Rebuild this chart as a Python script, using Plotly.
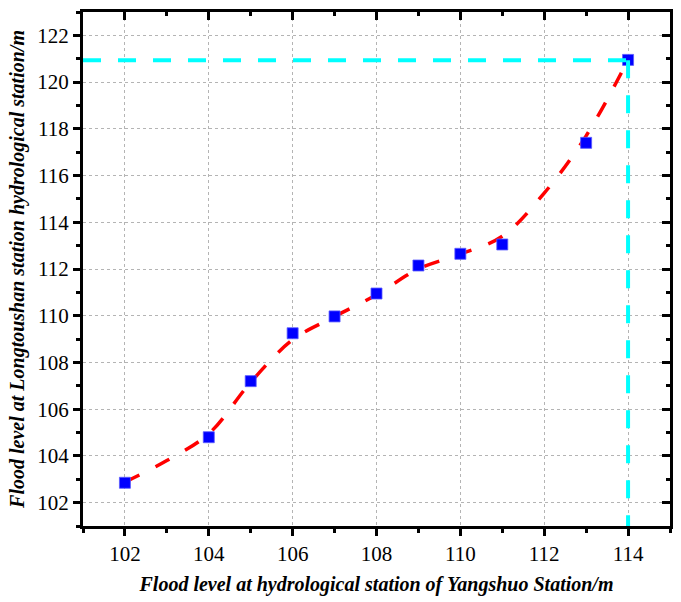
import plotly.graph_objects as go

# Measured data (Yangshuo vs Longtoushan flood levels)
yangshuo = [102, 104, 105, 106, 107, 108, 109, 110, 111, 113, 114]
longtoushan = [102.85, 104.8, 107.2, 109.25, 109.97, 110.95, 112.15, 112.65, 113.05, 117.4, 120.95]

# Fitted curve values
fit_x = [102, 103, 104, 105, 106, 107, 108, 109, 110, 111, 112, 113, 114]
fit_y = [102.88, 103.8, 104.95, 107.15, 108.97, 109.96, 110.9, 112.0, 112.64, 113.4, 115.25, 117.7, 120.95]

# Reference (design) level lines
ref_x = 114
ref_y = 120.93

x_range = [101, 115]
y_range = [101, 123]

FONT = "Liberation Serif, Times New Roman, serif"

fig = go.Figure()

fig.add_trace(go.Scatter(
    x=fit_x, y=fit_y, mode="lines",
    line=dict(color="#ff0000", width=3.5, dash="16px,18px", shape="spline", smoothing=1.0),
    showlegend=False, hoverinfo="skip"))

fig.add_trace(go.Scatter(
    x=yangshuo, y=longtoushan, mode="markers",
    marker=dict(symbol="square", size=11, color="#0000ff", line=dict(color="#5a5aff", width=0.8)),
    showlegend=False))

fig.add_trace(go.Scatter(
    x=[x_range[0], ref_x], y=[ref_y, ref_y], mode="lines",
    line=dict(color="#00ffff", width=4, dash="18px,17px"),
    showlegend=False, hoverinfo="skip"))
fig.add_trace(go.Scatter(
    x=[ref_x, ref_x], y=[ref_y, y_range[0]], mode="lines",
    line=dict(color="#00ffff", width=4, dash="18px,17px"),
    showlegend=False, hoverinfo="skip"))

# invisible trace on the mirror axes
fig.add_trace(go.Scatter(x=[x_range[0]], y=[y_range[0]], xaxis="x2", yaxis="y2",
                         mode="markers", marker=dict(opacity=0), showlegend=False, hoverinfo="skip"))

common = dict(
    showline=True, linecolor="black", linewidth=3, mirror=True,
    showgrid=True, gridcolor="#b4b4b4", gridwidth=1, griddash="3px,3px",
    ticks="outside", ticklen=7, tickwidth=3, tickcolor="black",
    tickfont=dict(family=FONT, size=21, color="black"),
    zeroline=False,
)

fig.update_layout(
    width=681, height=602,
    margin=dict(l=83, r=8, t=12, b=76),
    plot_bgcolor="white", paper_bgcolor="white",
    xaxis=dict(range=x_range, tick0=102, dtick=2,
               minor=dict(ticks="outside", ticklen=4, tickwidth=3, tickcolor="black", tick0=101, dtick=1, showgrid=False),
               title=dict(text="<b><i>Flood level at hydrological station of Yangshuo Station/m</i></b>",
                          font=dict(family=FONT, size=20, color="black"), standoff=12),
               **common),
    yaxis=dict(range=y_range, tick0=102, dtick=2,
               minor=dict(ticks="outside", ticklen=4, tickwidth=3, tickcolor="black", tick0=101, dtick=1, showgrid=False),
               title=dict(text="<b><i>Flood level at Longtoushan station hydrological station/m</i></b>",
                          font=dict(family=FONT, size=20, color="black"), standoff=8),
               **common),
    xaxis2=dict(range=x_range, overlaying="x", side="top", showgrid=False, zeroline=False,
                showticklabels=False, ticks="inside", ticklen=8, tickwidth=3, tickcolor="black",
                tick0=102, dtick=2,
                minor=dict(ticks="inside", ticklen=4, tickwidth=3, tickcolor="black", tick0=101, dtick=1, showgrid=False)),
    yaxis2=dict(range=y_range, overlaying="y", side="right", showgrid=False, zeroline=False,
                showticklabels=False, ticks="inside", ticklen=8, tickwidth=3, tickcolor="black",
                tick0=102, dtick=2,
                minor=dict(ticks="inside", ticklen=4, tickwidth=3, tickcolor="black", tick0=101, dtick=1, showgrid=False)),
)

fig.write_html("out.html")
